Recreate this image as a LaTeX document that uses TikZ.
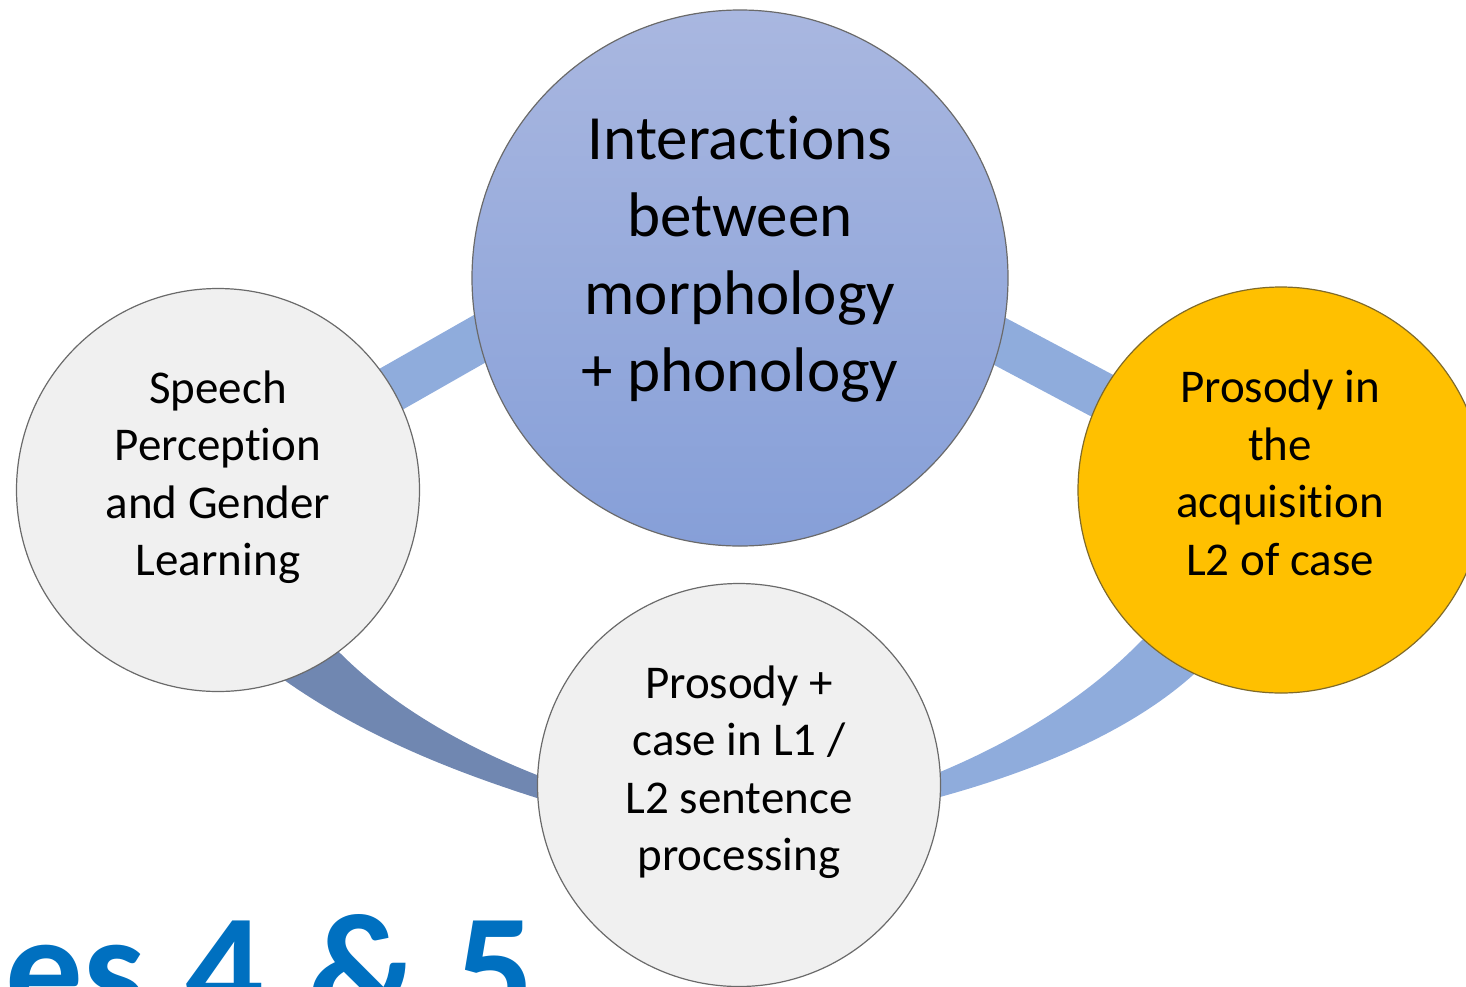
\documentclass[tikz,border=0pt]{standalone}
\usepackage{fontspec}
\setmainfont{Carlito}[Ligatures=NoCommon]
\definecolor{ringlight}{HTML}{8FACDC}
\definecolor{ringdark}{HTML}{7087B1}
\definecolor{topA}{HTML}{A9B7E0}
\definecolor{topB}{HTML}{869FD8}
\definecolor{greyfill}{HTML}{F0F0F0}
\definecolor{greyline}{HTML}{6A6A6A}
\definecolor{gold}{HTML}{FFC000}
\definecolor{goldline}{HTML}{7F6A2A}
\definecolor{titleblue}{HTML}{0070C0}
\tikzset{
  bubble/.style={circle, inner sep=0pt, line width=1.2pt},
  bigtext/.style={align=center, inner sep=0pt, font=\fontsize{63}{77.5}\selectfont},
  smalltext/.style={align=center, inner sep=0pt, font=\fontsize{47}{57.5}\selectfont},
  straightband/.style={line width=47pt, draw=ringlight},
}
\begin{document}
\begin{tikzpicture}[x=1pt,y=-1pt]
\useasboundingbox (0,0) rectangle (1466,986);
\clip (0,0) rectangle (1466,986);
% circles (positions)
\coordinate (ctop) at (740,278);
\coordinate (cleft) at (218,490);
\coordinate (cright) at (1281,490);
\coordinate (cbot) at (739,785);
% connecting bands
\draw[straightband] (330,424) -- (560,293);
\draw[straightband] (920,299) -- (1180,437);
\fill[ringdark] (257,661) -- (287,682) .. controls (363,735) and (449,770) .. (537,798)
  -- (567,808) -- (567,787) -- (537,775) .. controls (466,747) and (395,708) .. (340,653)
  -- (305,618) -- cycle;
\fill[ringlight] (910,806) -- (940,797) .. controls (1027,773) and (1126,735) .. (1193,675)
  -- (1223,645) -- (1167,615) -- (1142,640) .. controls (1086,698) and (1014,741) .. (940,772)
  -- (910,781) -- cycle;
% circles
\node[bubble, minimum size=536pt, top color=topA, bottom color=topB, draw=greyline] (top) at (ctop) {};
\node[bubble, minimum size=403pt, fill=greyfill, draw=greyline] (left) at (cleft) {};
\node[bubble, minimum size=406pt, fill=gold, draw=goldline] (right) at (cright) {};
\node[bubble, minimum size=403pt, fill=greyfill, draw=greyline] (bottom) at (cbot) {};
% texts
\node[bigtext] (ttop) at (740,259) {Interactions\\between\\morphology\\+ phonology};
\node[smalltext] (tleft) at (218,477) {Speech\\Perception\\and Gender\\Learning};
\node[smalltext] (tright) at (1280,473) {Prosody in\\the\\acquisition\\L2 of case};
\node[smalltext] (tbot) at (739,772) {Prosody +\\case in L1 /\\L2 sentence\\processing};
% title fragment
\node[anchor=base west, inner sep=0pt, text=titleblue, font=\fontsize{155}{155}\selectfont\bfseries] (title) at (5,1021) {es\hskip 40pt 4\hskip 45pt\&\hskip 38pt 5};
\end{tikzpicture}
\end{document}
